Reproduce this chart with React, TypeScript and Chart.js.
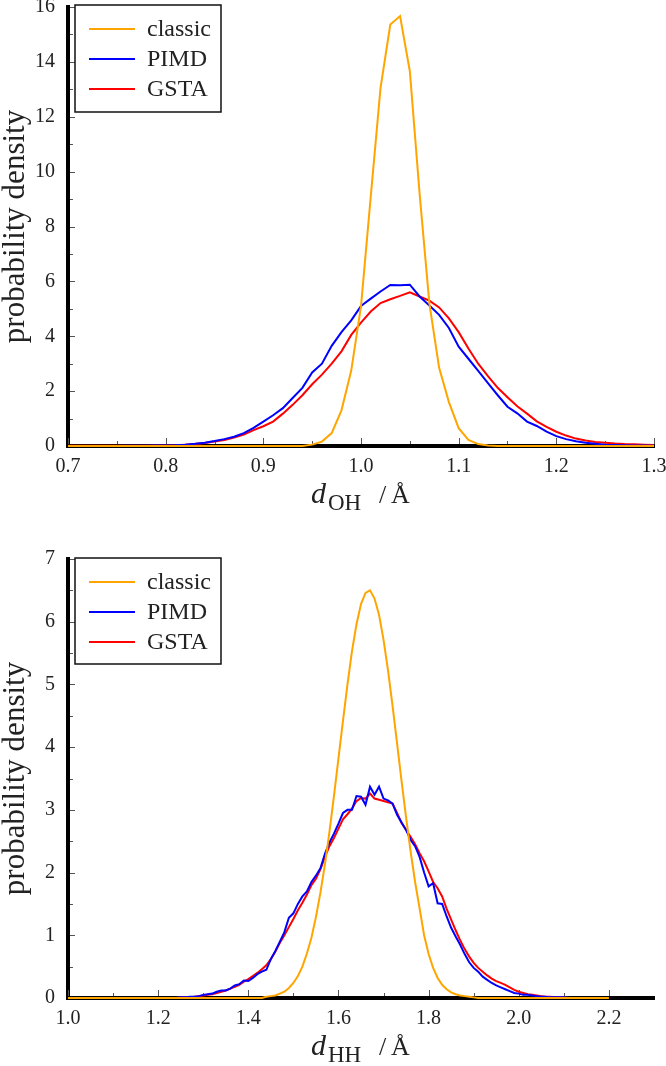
import React, { useEffect, useRef } from 'react';
import { Chart, registerables } from 'chart.js';
Chart.register(...registerables);

const FONT = '"Liberation Serif", "Times New Roman", serif';

const SERIES_LABELS = ['classic', 'PIMD', 'GSTA'];
const SERIES_COLORS = ['#FFA500', '#0000FF', '#FF0000'];

// ---------- top panel: d_OH ----------
const OH_X = [
  0.70, 0.71, 0.72, 0.73, 0.74, 0.75, 0.76, 0.77, 0.78, 0.79,
  0.80, 0.81, 0.82, 0.83, 0.84, 0.85, 0.86, 0.87, 0.88, 0.89,
  0.90, 0.91, 0.92, 0.93, 0.94, 0.95, 0.96, 0.97, 0.98, 0.99,
  1.00, 1.01, 1.02, 1.03, 1.04, 1.05, 1.06, 1.07, 1.08, 1.09,
  1.10, 1.11, 1.12, 1.13, 1.14, 1.15, 1.16, 1.17, 1.18, 1.19,
  1.20, 1.21, 1.22, 1.23, 1.24, 1.25, 1.26, 1.27, 1.28, 1.29, 1.30,
];
const OH_CLASSIC = [
  0, 0, 0, 0, 0, 0, 0, 0, 0, 0,
  0, 0, 0, 0, 0, 0, 0, 0, 0, 0,
  0, 0, 0, 0, 0, 0.05, 0.16, 0.47, 1.30, 2.75,
  5.10, 9.10, 13.05, 15.36, 15.67, 13.66, 9.20, 5.20, 2.85, 1.60,
  0.65, 0.22, 0.07, 0.02, 0, 0, 0, 0, 0, 0,
  0, 0, 0, 0, 0, 0, 0, 0, 0, 0, 0,
];
const OH_PIMD = [
  0.00, 0.00, 0.00, 0.00, 0.00, 0.00, 0.01, 0.01, 0.01, 0.02,
  0.02, 0.03, 0.05, 0.08, 0.12, 0.18, 0.25, 0.34, 0.47, 0.66,
  0.89, 1.12, 1.38, 1.75, 2.12, 2.68, 3.00, 3.65, 4.15, 4.58,
  5.10, 5.37, 5.63, 5.87, 5.86, 5.88, 5.45, 5.12, 4.78, 4.30,
  3.62, 3.18, 2.74, 2.29, 1.85, 1.43, 1.19, 0.89, 0.73, 0.52,
  0.36, 0.25, 0.17, 0.12, 0.08, 0.05, 0.04, 0.03, 0.02, 0.02, 0.01,
];
const OH_GSTA = [
  0.01, 0.01, 0.01, 0.01, 0.01, 0.01, 0.01, 0.01, 0.01, 0.02,
  0.02, 0.03, 0.05, 0.07, 0.11, 0.16, 0.22, 0.31, 0.42, 0.58,
  0.72, 0.89, 1.18, 1.50, 1.85, 2.25, 2.60, 3.00, 3.45, 4.05,
  4.50, 4.90, 5.21, 5.35, 5.47, 5.60, 5.45, 5.30, 5.05, 4.65,
  4.15, 3.55, 3.00, 2.55, 2.12, 1.78, 1.45, 1.18, 0.90, 0.70,
  0.52, 0.38, 0.27, 0.20, 0.15, 0.12, 0.09, 0.07, 0.06, 0.05, 0.04,
];
const OH_X_TICKS = [0.7, 0.8, 0.9, 1.0, 1.1, 1.2, 1.3];
const OH_X_MINOR = [0.75, 0.85, 0.95, 1.05, 1.15, 1.25];
const OH_Y_TICKS = [0, 2, 4, 6, 8, 10, 12, 14, 16];
const OH_Y_MINOR = [1, 3, 5, 7, 9, 11, 13, 15];

// ---------- bottom panel: d_HH ----------
const HH_X = [
  1.00, 1.01, 1.02, 1.03, 1.04, 1.05, 1.06, 1.07, 1.08, 1.09,
  1.10, 1.11, 1.12, 1.13, 1.14, 1.15, 1.16, 1.17, 1.18, 1.19,
  1.20, 1.21, 1.22, 1.23, 1.24, 1.25, 1.26, 1.27, 1.28, 1.29,
  1.30, 1.31, 1.32, 1.33, 1.34, 1.35, 1.36, 1.37, 1.38, 1.39,
  1.40, 1.41, 1.42, 1.43, 1.44, 1.45, 1.46, 1.47, 1.48, 1.49,
  1.50, 1.51, 1.52, 1.53, 1.54, 1.55, 1.56, 1.57, 1.58, 1.59,
  1.60, 1.61, 1.62, 1.63, 1.64, 1.65, 1.66, 1.67, 1.68, 1.69,
  1.70, 1.71, 1.72, 1.73, 1.74, 1.75, 1.76, 1.77, 1.78, 1.79,
  1.80, 1.81, 1.82, 1.83, 1.84, 1.85, 1.86, 1.87, 1.88, 1.89,
  1.90, 1.91, 1.92, 1.93, 1.94, 1.95, 1.96, 1.97, 1.98, 1.99,
  2.00, 2.01, 2.02, 2.03, 2.04, 2.05, 2.06, 2.07, 2.08, 2.09,
  2.10, 2.11, 2.12, 2.13, 2.14, 2.15, 2.16, 2.17, 2.18, 2.19, 2.20,
];
const HH_CLASSIC = [
  0, 0, 0, 0, 0, 0, 0, 0, 0, 0,
  0, 0, 0, 0, 0, 0, 0, 0, 0, 0,
  0, 0, 0, 0, 0, 0, 0, 0, 0, 0,
  0, 0, 0, 0, 0, 0, 0, 0, 0, 0,
  0, 0, 0, 0, 0.02, 0.03, 0.04, 0.07, 0.10, 0.16,
  0.24, 0.35, 0.50, 0.71, 0.96, 1.29, 1.68, 2.13, 2.65, 3.22,
  3.82, 4.42, 5.00, 5.53, 5.96, 6.28, 6.46, 6.50, 6.37, 6.11,
  5.71, 5.22, 4.66, 4.06, 3.46, 2.88, 2.34, 1.85, 1.43, 1.00,
  0.70, 0.48, 0.32, 0.21, 0.14, 0.09, 0.06, 0.04, 0.03, 0.02,
  0.01, 0, 0, 0, 0, 0, 0, 0, 0, 0,
  0, 0, 0, 0, 0, 0, 0, 0, 0, 0,
  0, 0, 0, 0, 0, 0, 0, 0, 0, 0, 0,
];
const HH_PIMD = [
  0, 0, 0, 0, 0, 0, 0, 0, 0, 0,
  0, 0, 0, 0, 0, 0, 0, 0, 0, 0,
  0, 0, 0, 0, 0, 0.01, 0.01, 0.02, 0.02, 0.03,
  0.05, 0.06, 0.07, 0.10, 0.12, 0.12, 0.15, 0.20, 0.22, 0.28,
  0.27, 0.32, 0.38, 0.42, 0.45, 0.62, 0.75, 0.90, 1.05, 1.28,
  1.35, 1.50, 1.62, 1.70, 1.85, 1.95, 2.07, 2.30, 2.48, 2.62,
  2.78, 2.95, 3.00, 3.00, 3.22, 3.21, 3.08, 3.37, 3.24, 3.37,
  3.18, 3.15, 3.10, 2.92, 2.80, 2.68, 2.52, 2.42, 2.25, 2.00,
  1.78, 1.83, 1.51, 1.50, 1.30, 1.12, 0.98, 0.85, 0.70, 0.57,
  0.48, 0.42, 0.34, 0.29, 0.24, 0.20, 0.17, 0.14, 0.11, 0.08,
  0.07, 0.05, 0.05, 0.04, 0.03, 0.02, 0.02, 0.01, 0.01, 0.01,
  0.01, 0, 0, 0, 0, 0, 0, 0, 0, 0, 0,
];
const HH_GSTA = [
  0, 0, 0, 0, 0, 0, 0, 0, 0, 0,
  0, 0, 0, 0, 0, 0, 0, 0, 0, 0,
  0, 0, 0, 0, 0, 0.01, 0.01, 0.01, 0.02, 0.03,
  0.04, 0.05, 0.06, 0.08, 0.10, 0.12, 0.15, 0.18, 0.21, 0.26,
  0.30, 0.35, 0.40, 0.46, 0.52, 0.62, 0.74, 0.88, 1.00, 1.13,
  1.26, 1.40, 1.52, 1.65, 1.80, 1.90, 2.05, 2.25, 2.42, 2.55,
  2.70, 2.85, 2.93, 3.02, 3.14, 3.19, 3.18, 3.26, 3.18, 3.16,
  3.14, 3.12, 3.10, 2.95, 2.79, 2.68, 2.57, 2.45, 2.31, 2.18,
  2.02, 1.85, 1.75, 1.62, 1.42, 1.25, 1.08, 0.92, 0.78, 0.66,
  0.56, 0.48, 0.42, 0.36, 0.31, 0.27, 0.24, 0.21, 0.17, 0.13,
  0.10, 0.08, 0.06, 0.05, 0.04, 0.03, 0.02, 0.02, 0.01, 0.01,
  0.01, 0, 0, 0, 0, 0, 0, 0, 0, 0, 0,
];
const HH_X_TICKS = [1.0, 1.2, 1.4, 1.6, 1.8, 2.0, 2.2];
const HH_X_MINOR = [1.1, 1.3, 1.5, 1.7, 1.9, 2.1];
const HH_Y_TICKS = [0, 1, 2, 3, 4, 5, 6, 7];
const HH_Y_MINOR = [0.5, 1.5, 2.5, 3.5, 4.5, 5.5, 6.5];

const W = 666;

const decorPlugin = {
  id: 'decor',
  beforeDatasetsDraw(chart: any, _a: any, o: any) {
    const { ctx, chartArea, scales } = chart;
    const xs = scales.x, ys = scales.y;
    ctx.save();
    ctx.strokeStyle = '#555';
    ctx.lineWidth = 1;
    const bot = chartArea.bottom - 2;
    const lft = chartArea.left + 2;
    const drawX = (vals: number[], len: number) => vals.forEach((v) => {
      const p = Math.round(xs.getPixelForValue(v)) + 0.5;
      ctx.beginPath(); ctx.moveTo(p, bot); ctx.lineTo(p, bot - len); ctx.stroke();
    });
    const drawY = (vals: number[], len: number) => vals.forEach((v) => {
      const p = Math.round(ys.getPixelForValue(v)) + 0.5;
      ctx.beginPath(); ctx.moveTo(lft, p); ctx.lineTo(lft + len, p); ctx.stroke();
    });
    drawX(o.xMajor, 6); drawX(o.xMinor, 3);
    drawY(o.yMajor, 5); drawY(o.yMinor, 3);
    ctx.restore();
  },
  afterDatasetsDraw(chart: any, _a: any, o: any) {
    const { ctx, chartArea } = chart;
    ctx.save();
    // legend box
    const b = o.box;
    ctx.fillStyle = '#fff';
    ctx.fillRect(b.x, b.y, b.w, b.h);
    ctx.strokeStyle = '#111';
    ctx.lineWidth = 1.5;
    ctx.strokeRect(b.x, b.y, b.w, b.h);
    chart.data.datasets.forEach((ds: any, i: number) => {
      const cy = b.y + 24 + i * 30;
      ctx.strokeStyle = ds.borderColor;
      ctx.lineWidth = 2;
      ctx.beginPath(); ctx.moveTo(b.x + 14, cy); ctx.lineTo(b.x + 60, cy); ctx.stroke();
      ctx.fillStyle = '#222';
      ctx.font = `24px ${FONT}`;
      ctx.textBaseline = 'middle';
      ctx.textAlign = 'left';
      ctx.fillText(ds.label, b.x + 72, cy + 1);
    });
    // x-axis title: d_sub / Å
    const base = chartArea.bottom + 57;
    ctx.fillStyle = '#222';
    ctx.textBaseline = 'alphabetic';
    ctx.textAlign = 'left';
    ctx.font = `italic 30px ${FONT}`;
    ctx.fillText('d', 311, base);
    ctx.font = `23px ${FONT}`;
    ctx.fillText(o.sub, 328, base + 7);
    ctx.font = `26px ${FONT}`;
    ctx.fillText('/', 379, base);
    ctx.fillText('Å', 391, base);
    ctx.restore();
  },
};

type PanelProps = {
  top: number; height: number; plotTop: number; plotBottom: number;
  xs: number[]; series: number[][];
  xMin: number; xMax: number; xStep: number; includeBounds: boolean;
  yMax: number; yStep: number;
  xMajor: number[]; xMinor: number[]; yMajor: number[]; yMinor: number[];
  sub: string; box: { x: number; y: number; w: number; h: number };
};

function Panel(p: PanelProps) {
  const ref = useRef<HTMLCanvasElement | null>(null);
  useEffect(() => {
    if (!ref.current) return;
    const chart = new Chart(ref.current, {
      type: 'line',
      data: {
        datasets: p.series.map((ys, i) => ({
          label: SERIES_LABELS[i],
          data: p.xs.map((x, j) => ({ x, y: ys[j] })),
          borderColor: SERIES_COLORS[i],
          backgroundColor: SERIES_COLORS[i],
          borderWidth: 2,
          pointRadius: 0,
          tension: 0,
          fill: false,
          clip: false as any,
        })),
      },
      options: {
        animation: false,
        responsive: false,
        devicePixelRatio: 1,
        layout: { padding: { top: p.plotTop, right: 12, left: 0, bottom: 0 } },
        plugins: {
          legend: { display: false },
          tooltip: { enabled: false },
          decor: {
            xMajor: p.xMajor, xMinor: p.xMinor, yMajor: p.yMajor, yMinor: p.yMinor,
            sub: p.sub, box: p.box,
          },
        } as any,
        scales: {
          x: {
            type: 'linear',
            min: p.xMin,
            max: p.xMax,
            grid: { display: false, drawTicks: false },
            border: { display: true, width: 4, color: '#000' },
            ticks: {
              stepSize: p.xStep,
              includeBounds: p.includeBounds,
              autoSkip: false,
              maxRotation: 0,
              padding: 9,
              color: '#222',
              font: { family: FONT, size: 20 },
              callback: (v: any) => Number(v).toFixed(1),
            },
            afterFit: (s: any) => {
              s.height = p.height - p.plotBottom;
              s.paddingLeft = 0; s.paddingRight = 0;
            },
          },
          y: {
            type: 'linear',
            min: 0,
            max: p.yMax,
            grid: { display: false, drawTicks: false },
            border: { display: true, width: 4, color: '#000' },
            title: {
              display: true,
              text: 'probability density',
              color: '#222',
              font: { family: FONT, size: 31, lineHeight: 1.0 },
              padding: { top: 0, bottom: 0 },
            },
            ticks: {
              stepSize: p.yStep,
              padding: 13,
              color: '#222',
              font: { family: FONT, size: 20 },
              callback: (v: any) => String(v),
            },
            afterFit: (s: any) => {
              s.width = 68;
              s.paddingTop = 0; s.paddingBottom = 0;
            },
          },
        },
      } as any,
      plugins: [decorPlugin],
    });
    return () => chart.destroy();
  }, []);
  return (
    <div style={{ position: 'absolute', left: 0, top: p.top, width: W, height: p.height }}>
      <canvas ref={ref} width={W} height={p.height} style={{ display: 'block' }} />
    </div>
  );
}

export default function App() {
  return (
    <div style={{ position: 'absolute', left: 0, top: 0, width: W, height: 1066, background: '#fff' }}>
      <Panel
        top={0} height={530} plotTop={7} plotBottom={446}
        xs={OH_X} series={[OH_CLASSIC, OH_PIMD, OH_GSTA]}
        xMin={0.7} xMax={1.3} xStep={0.1} includeBounds={true}
        yMax={16} yStep={2}
        xMajor={OH_X_TICKS} xMinor={OH_X_MINOR} yMajor={OH_Y_TICKS} yMinor={OH_Y_MINOR}
        sub="OH" box={{ x: 75, y: 5, w: 146, h: 107 }}
      />
      <Panel
        top={530} height={536} plotTop={29} plotBottom={468}
        xs={HH_X} series={[HH_CLASSIC, HH_PIMD, HH_GSTA]}
        xMin={1.0} xMax={2.3} xStep={0.2} includeBounds={false}
        yMax={7} yStep={1}
        xMajor={HH_X_TICKS} xMinor={HH_X_MINOR} yMajor={HH_Y_TICKS} yMinor={HH_Y_MINOR}
        sub="HH" box={{ x: 75, y: 28, w: 146, h: 106 }}
      />
    </div>
  );
}
